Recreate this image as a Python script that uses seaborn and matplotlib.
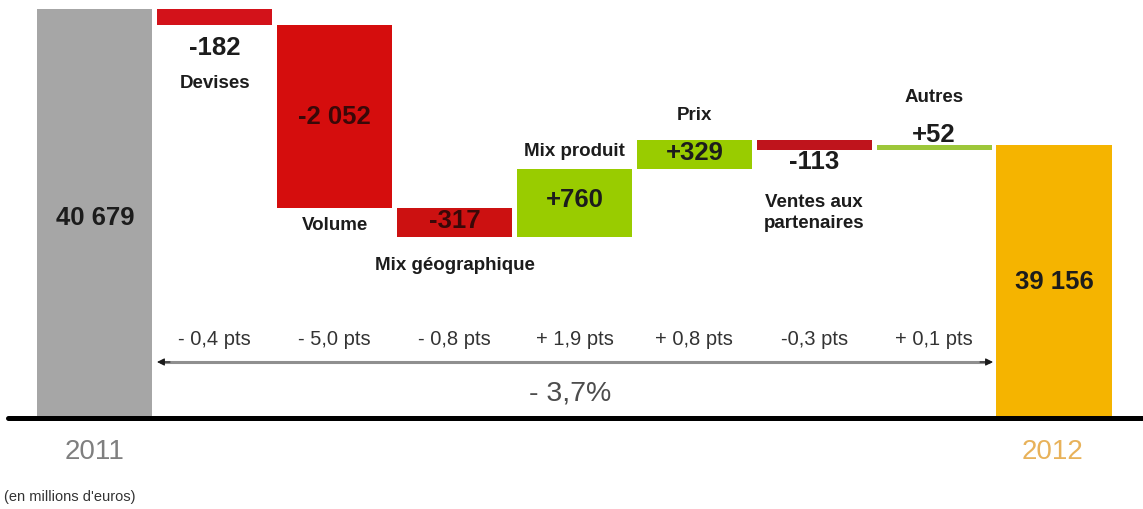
import numpy as np
import pandas as pd
import seaborn as sns
import matplotlib.pyplot as plt

sns.set_theme(style="white")
plt.rcParams['font.family'] = ['Liberation Sans', 'DejaVu Sans']

# data (millions d'euros)
steps = ['2011', 'Devises', 'Volume', 'Mix géographique', 'Mix produit',
         'Prix', 'Ventes aux\npartenaires', 'Autres', '2012']
start_total = 40679
end_total = 39156
deltas = [-182, -2052, -317, 760, 329, -113, 52]
value_labels = ['40 679', '-182', '-2 052', '-317', '+760', '+329', '-113', '+52', '39 156']
pts_labels = ['- 0,4 pts', '- 5,0 pts', '- 0,8 pts', '+ 1,9 pts', '+ 0,8 pts', '-0,3 pts', '+ 0,1 pts']
change_label = '- 3,7%'
unit_label = "(en millions d'euros)"

bar_colors = ['#a6a6a6', '#d3121a', '#d50d0d', '#cc1111', '#99cc00',
              '#99cc00', '#bf141c', '#9dc73a', '#f5b400']

# waterfall levels
levels = np.concatenate([[start_total], start_total + np.cumsum(deltas)])
tops = [start_total] + [max(levels[i], levels[i + 1]) for i in range(len(deltas))] + [end_total]
bottoms = [0] + [min(levels[i], levels[i + 1]) for i in range(len(deltas))] + [0]
df = pd.DataFrame({'step': steps, 'top': tops, 'bottom': bottoms})

Y_BOT, Y_TOP = 36098, 40780
X_LEFT, X_RIGHT = -0.792, 8.742

fig = plt.figure(figsize=(11.43, 5.09), dpi=100)
ax = fig.add_axes([0, 91 / 509, 1, 418 / 509])

sns.barplot(data=df, x='step', y='top', hue='step', palette=bar_colors, saturation=1,
            width=0.96, linewidth=0, errorbar=None, legend=False, ax=ax)
# blank out the part under each floating bar
sns.barplot(data=df, x='step', y='bottom', color='white', saturation=1,
            width=0.96, linewidth=0, errorbar=None, ax=ax)

ax.set_xlim(X_LEFT, X_RIGHT)
ax.set_ylim(Y_BOT, Y_TOP)
ax.axis('off')

# helpers: pixel position in the 1143x509 picture -> data coords
def px(p):
    return X_LEFT + p / 1143 * (X_RIGHT - X_LEFT)

def py(p):
    return Y_TOP - p / 418 * (Y_TOP - Y_BOT)

dark = '#1c1c1c'
maroon = '#3a0808'
big = dict(ha='center', va='center', fontweight='bold', fontsize=18.5)
cat = dict(ha='center', va='center', fontweight='bold', fontsize=13.5, color=dark)

ax.text(0, py(218), value_labels[0], color=dark, **big)
ax.text(1, py(48), value_labels[1], color=dark, **big)
ax.text(1, py(84), steps[1], **cat)
ax.text(2, py(117), value_labels[2], color=maroon, **big)
ax.text(2, py(225), steps[2], **cat)
ax.text(3, py(221), value_labels[3], color=maroon, **big)
ax.text(3, py(266), steps[3], **cat)
ax.text(4, py(151), steps[4], **cat)
ax.text(4, py(200), value_labels[4], color=dark, **big)
ax.text(5, py(116), steps[5], **cat)
ax.text(5, py(153), value_labels[5], color=dark, **big)
ax.text(6, py(162), value_labels[6], color=dark, **big)
ax.text(6, py(213), steps[6], linespacing=1.25, **cat)
ax.text(7, py(97), steps[7], **cat)
ax.text(7, py(135), value_labels[7], color=dark, **big)
ax.text(8, py(282), value_labels[8], color=dark, **big)

for i, lab in enumerate(pts_labels):
    ax.text(i + 1, py(339), lab, ha='center', va='center', fontsize=14.5, color='#333333')

# double arrow between the two totals
y_arr = py(362)
ax.plot([px(160), px(990)], [y_arr, y_arr], color='#8f8f8f', lw=2.2, solid_capstyle='butt')
for x0, x1 in [(px(170), px(157)), (px(980), px(993))]:
    ax.annotate('', xy=(x1, y_arr), xytext=(x0, y_arr),
                arrowprops=dict(arrowstyle='-|>', color='#1a1a1a', lw=0.8, mutation_scale=11,
                                shrinkA=0, shrinkB=0))
ax.text(px(570), py(393), change_label, ha='center', va='center', fontsize=20.5, color='#4d4d4d')

# base line and year labels
ax.axhline(Y_BOT, xmin=8 / 1143, xmax=1, color='black', lw=3.6, clip_on=False)
ax.text(0, py(452), steps[0], ha='center', va='center', fontsize=20, color='#7f7f7f')
ax.text(px(1052), py(452), steps[8], ha='center', va='center', fontsize=20, color='#e8b25a')
ax.text(px(4), py(497), unit_label, ha='left', va='center', fontsize=10.5, color='#333333')

fig.savefig('out.png', dpi=100)
